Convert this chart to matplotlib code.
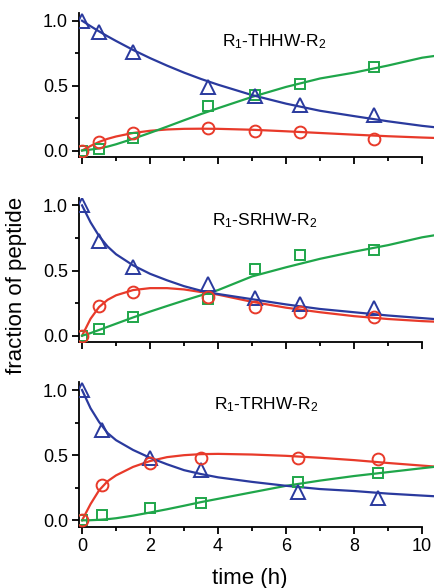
import matplotlib
matplotlib.use("Agg")
import matplotlib.pyplot as plt
from matplotlib.ticker import MultipleLocator

plt.rcParams['font.family'] = ['Liberation Sans', 'DejaVu Sans']
plt.rcParams['mathtext.default'] = 'regular'

# measured time points (h)
t_pts_a = [0, 0.5, 1.5, 3.7, 5.1, 6.4, 8.6]
t_pts_c = [0, 0.6, 2.0, 3.5, 6.35, 8.7]

# panel 1: R1-THHW-R2
tri_1 = [1.0, 0.91, 0.757, 0.49, 0.42, 0.35, 0.27]
sq_1 = [0.0, 0.01, 0.10, 0.34, 0.43, 0.51, 0.64]
circ_1 = [0.0, 0.064, 0.133, 0.17, 0.154, 0.14, 0.087]

# panel 2: R1-SRHW-R2
tri_2 = [1.0, 0.73, 0.53, 0.40, 0.29, 0.24, 0.21]
sq_2 = [0.0, 0.05, 0.146, 0.28, 0.51, 0.62, 0.66]
circ_2 = [0.0, 0.225, 0.333, 0.30, 0.22, 0.18, 0.14]

# panel 3: R1-TRHW-R2
tri_3 = [1.0, 0.69, 0.48, 0.385, 0.22, 0.175]
sq_3 = [0.0, 0.044, 0.097, 0.136, 0.295, 0.36]
circ_3 = [0.0, 0.27, 0.44, 0.48, 0.48, 0.47]

# fitted curves
t_fit = [0, 0.25, 0.5, 0.75, 1, 1.5, 2, 2.5, 3, 3.5, 4, 5, 6, 7, 8, 9, 10, 10.35]
blue_1 = [1.0, 0.958, 0.918, 0.88, 0.844, 0.775, 0.712, 0.654, 0.60, 0.551, 0.507,
          0.427, 0.361, 0.306, 0.265, 0.225, 0.19, 0.18]
red_1 = [0.0, 0.035, 0.066, 0.09, 0.108, 0.135, 0.152, 0.162, 0.167, 0.168, 0.167,
         0.16, 0.148, 0.135, 0.122, 0.11, 0.10, 0.097]
green_1 = [0.0, 0.007, 0.016, 0.03, 0.048, 0.09, 0.136, 0.184, 0.233, 0.281, 0.326,
           0.413, 0.49, 0.555, 0.60, 0.655, 0.715, 0.728]

blue_2 = [1.0, 0.87, 0.765, 0.685, 0.625, 0.54, 0.475, 0.425, 0.38, 0.345, 0.32,
          0.28, 0.24, 0.205, 0.18, 0.155, 0.135, 0.128]
red_2 = [0.0, 0.13, 0.22, 0.275, 0.31, 0.35, 0.365, 0.365, 0.355, 0.335, 0.315,
         0.26, 0.215, 0.18, 0.15, 0.128, 0.112, 0.108]
green_2 = [0.0, 0.02, 0.044, 0.068, 0.092, 0.14, 0.185, 0.228, 0.27, 0.31, 0.35,
           0.455, 0.525, 0.59, 0.645, 0.695, 0.755, 0.77]

blue_3 = [1.0, 0.86, 0.755, 0.67, 0.615, 0.54, 0.48, 0.43, 0.385, 0.355, 0.33,
          0.295, 0.265, 0.24, 0.225, 0.205, 0.19, 0.185]
red_3 = [0.0, 0.125, 0.23, 0.30, 0.345, 0.41, 0.455, 0.485, 0.50, 0.508, 0.51,
         0.505, 0.495, 0.48, 0.462, 0.44, 0.42, 0.413]
green_3 = [0.0, 0.001, 0.004, 0.009, 0.016, 0.036, 0.06, 0.085, 0.112, 0.14, 0.165,
           0.215, 0.265, 0.305, 0.34, 0.37, 0.40, 0.41]

labels = ['R$_1$-THHW-R$_2$', 'R$_1$-SRHW-R$_2$', 'R$_1$-TRHW-R$_2$']
label_pos = [(5.66, 0.84), (5.37, 0.885), (5.42, 0.885)]

blue = '#2a3a9e'
red = '#e83a2a'
green = '#1fa64a'

panels = [
    (t_pts_a, tri_1, sq_1, circ_1, blue_1, red_1, green_1),
    (t_pts_a, tri_2, sq_2, circ_2, blue_2, red_2, green_2),
    (t_pts_c, tri_3, sq_3, circ_3, blue_3, red_3, green_3),
]
boxes = [[0.182, 0.733, 0.818, 0.245],
         [0.182, 0.418, 0.818, 0.246],
         [0.182, 0.104, 0.818, 0.246]]

fig = plt.figure(figsize=(4.34, 5.88), dpi=100)
for i, (tp, tri, sq, circ, bl, rd, gr) in enumerate(panels):
    ax = fig.add_axes(boxes[i])
    ax.plot(t_fit, rd, color=red, lw=1.6, zorder=2)
    ax.plot(t_fit, gr, color=green, lw=1.6, zorder=2)
    ax.plot(t_fit, bl, color=blue, lw=1.6, zorder=2)
    ax.plot(tp, sq, 's', ms=7, mfc='none', mec=green, mew=1.4, zorder=3)
    ax.plot(tp, tri, '^', ms=10, mfc='none', mec=blue, mew=1.4, zorder=3)
    ax.plot(tp, circ, 'o', ms=8.5, mfc='none', mec=red, mew=1.4, zorder=3)

    ax.set_xlim(-0.09, 10.35)
    ax.set_ylim(-0.05, 1.06)
    ax.spines['top'].set_visible(False)
    ax.spines['right'].set_visible(False)
    ax.spines['bottom'].set_bounds(-0.09, 10)
    for s in ('left', 'bottom'):
        ax.spines[s].set_linewidth(1.3)
    ax.xaxis.set_major_locator(MultipleLocator(2))
    ax.xaxis.set_minor_locator(MultipleLocator(1))
    ax.yaxis.set_minor_locator(MultipleLocator(0.25))
    ax.set_yticks([0, 0.5, 1.0])
    ax.set_yticklabels(['0.0', '0.5', '1.0'])
    ax.tick_params(which='major', direction='out', length=5, width=1.3,
                   labelsize=13, pad=3)
    ax.tick_params(which='minor', direction='out', length=3, width=1.3)
    if i < 2:
        ax.tick_params(axis='x', labelbottom=False)
    ax.text(label_pos[i][0], label_pos[i][1], labels[i], fontsize=12.5,
            ha='center', va='center')

fig.text(0.576, 0.017, 'time (h)', fontsize=16, ha='center', va='center')
fig.text(0.039, 0.515, 'fraction of peptide', rotation=90, fontsize=16,
         ha='center', va='center')

fig.savefig('out.png', dpi=100)
